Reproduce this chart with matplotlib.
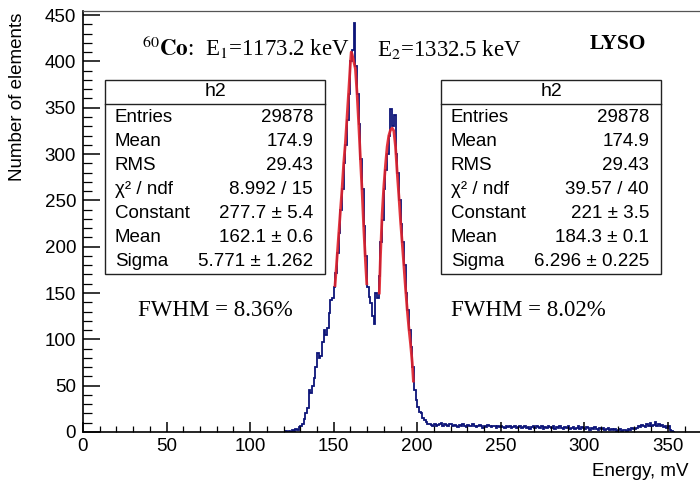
import numpy as np
import matplotlib
matplotlib.use("Agg")
import matplotlib.pyplot as plt
from matplotlib.ticker import MultipleLocator

plt.rcParams['font.family'] = ['Liberation Sans', 'DejaVu Sans']
plt.rcParams['mathtext.fontset'] = 'stix'

# histogram: 1 mV bins starting at 120 mV
bin_start = 120
counts = [
    0, 1, 0, 1, 0, 2, 1, 3, 2, 5,                      # 120-129
    6, 9, 14, 20, 26, 45, 42, 50, 58, 70,              # 130-139
    85, 80, 82, 97, 110, 105, 112, 128, 142, 145,      # 140-149
    157, 172, 193, 215, 240, 262, 290, 310, 337, 365,  # 150-159
    400, 412, 441, 395, 365, 332, 295, 262, 222, 190,  # 160-169
    157, 146, 139, 125, 117, 150, 145, 168, 205, 229,  # 170-179
    262, 283, 300, 319, 349, 330, 342, 300, 280, 250,  # 180-189
    225, 205, 180, 150, 132, 110, 92, 70, 45, 35,      # 190-199
    27, 22, 20, 15, 13, 11, 9, 9, 8, 7,                # 200-209
    9, 6, 8, 9, 10, 7, 9, 8, 6, 9,                     # 210-219
    9, 6, 8, 7, 5, 8, 6, 9, 7, 5,                      # 220-229
    8, 6, 7, 9, 6, 5, 7, 8, 6, 4,                      # 230-239
    7, 5, 8, 6, 5, 7, 6, 4, 6, 5,                      # 240-249
    7, 5, 4, 6, 5, 7, 4, 5, 6, 4,                      # 250-259
    5, 7, 4, 5, 6, 4, 5, 3, 5, 6,                      # 260-269
    4, 7, 5, 4, 6, 3, 5, 4, 6, 5,                      # 270-279
    4, 6, 3, 5, 4, 6, 4, 3, 5, 4,                      # 280-289
    6, 3, 4, 5, 3, 4, 6, 3, 5, 4,                      # 290-299
    3, 5, 4, 2, 4, 3, 5, 3, 2, 4,                      # 300-309
    3, 4, 2, 3, 4, 2, 3, 2, 3, 1,                      # 310-319
    2, 3, 1, 2, 2, 1, 3, 2, 4, 3,                      # 320-329
    3, 4, 6, 5, 8, 6, 5, 9, 7, 10,                     # 330-339
    6, 8, 11, 7, 9, 6, 8, 5, 7, 4,                     # 340-349
    6, 2, 1, 0,                                        # 350-353
]

# gaussian fit curves
fit1_x = [150.8, 152, 153, 154, 155, 156, 157, 158, 159, 160, 160.5, 161,
          162, 163, 164, 165, 166, 167, 168, 169, 169.8]
fit1_y = [158, 188, 213, 238, 262, 290, 312, 340, 368, 398, 410, 408,
          400, 392, 365, 332, 295, 260, 220, 185, 160]
fit2_x = [177.3, 178, 179, 180, 181, 182, 183, 184, 185, 186, 187, 188,
          189, 190, 191, 192, 193, 194, 195, 196, 197, 197.7]
fit2_y = [150, 190, 235, 265, 288, 308, 320, 326, 328, 325, 308, 280,
          255, 228, 204, 180, 155, 132, 112, 95, 75, 55]

box_labels = ["Entries", "Mean", "RMS", "χ² / ndf", "Constant", "Mean", "Sigma"]
box1_values = ["29878", "174.9", "29.43", "8.992 / 15", "277.7 ± 5.4",
               "162.1 ± 0.6", "5.771 ± 1.262"]
box2_values = ["29878", "174.9", "29.43", "39.57 / 40", "221 ± 3.5",
               "184.3 ± 0.1", "6.296 ± 0.225"]

W, H = 700, 482
fig = plt.figure(figsize=(7, 4.82), dpi=100)


def fx(px):
    return px / W


def fy(py):
    return 1 - py / H


ax = fig.add_axes([fx(83), fy(432), fx(700) - fx(83), fy(11) - fy(432)])
edges = np.arange(bin_start, bin_start + len(counts) + 1)
ax.stairs(counts, edges, color='#0c1478', lw=1.3)
ax.plot(fit1_x, fit1_y, color='#e0202a', lw=2.0, alpha=0.9)
ax.plot(fit2_x, fit2_y, color='#e0202a', lw=2.0, alpha=0.9)

ax.set_xlim(0, 369.2)
ax.set_ylim(0, 454.4)
ax.xaxis.set_major_locator(MultipleLocator(50))
ax.xaxis.set_minor_locator(MultipleLocator(10))
ax.yaxis.set_major_locator(MultipleLocator(50))
ax.yaxis.set_minor_locator(MultipleLocator(10))
ax.tick_params(axis='y', which='major', direction='in', length=12, width=1.1, labelsize=13.5, pad=5)
ax.tick_params(axis='y', which='minor', direction='in', length=6.5, width=0.9)
ax.tick_params(axis='x', which='major', direction='in', length=7, width=1.1, labelsize=13.5, pad=4)
ax.tick_params(axis='x', which='minor', direction='in', length=4, width=0.9)
ax.spines['right'].set_visible(False)
ax.spines['top'].set_color('#555555')
ax.spines['top'].set_linewidth(0.9)
ax.spines['left'].set_linewidth(1.2)
ax.spines['bottom'].set_linewidth(1.2)

fig.text(fx(18), fy(13), "Number of elements", rotation=90, ha='center', va='top', fontsize=13.5)
fig.text(fx(688), fy(471), "Energy, mV", ha='right', va='center', fontsize=13.5)

serif = ['Liberation Serif', 'DejaVu Serif']
fig.text(fx(142), fy(56), r"$^{60}\mathbf{Co}$:  E$_1$=1173.2 keV", family=serif,
         fontsize=16.5, ha='left', va='baseline')
fig.text(fx(377), fy(56), r"E$_2$=1332.5 keV", family=serif,
         fontsize=16.5, ha='left', va='baseline')
fig.text(fx(590), fy(49), "LYSO", family=serif, fontweight='bold',
         fontsize=15.5, ha='left', va='baseline')
fig.text(fx(215), fy(311), "FWHM = 8.36%", family=serif, fontsize=16.5, ha='center', va='center')
fig.text(fx(528), fy(311), "FWHM = 8.02%", family=serif, fontsize=16.5, ha='center', va='center')


def stat_box(left, right, values):
    top, head, bottom = 80, 104, 274
    fig.patches.append(plt.Rectangle((fx(left), fy(bottom)), fx(right) - fx(left),
                                     fy(top) - fy(bottom), transform=fig.transFigure,
                                     facecolor='white', edgecolor='#222222', lw=1.0))
    fig.add_artist(plt.Line2D([fx(left), fx(right)], [fy(head), fy(head)],
                              transform=fig.transFigure, color='#222222', lw=1.0))
    fig.text(fx((left + right) / 2), fy(92), "h2", ha='center', va='center', fontsize=14)
    for i, (lab, val) in enumerate(zip(box_labels, values)):
        yy = fy(117 + 24.1 * i)
        fig.text(fx(left + 10), yy, lab, ha='left', va='center', fontsize=13.5)
        fig.text(fx(right - 12), yy, val, ha='right', va='center', fontsize=13.5)


stat_box(105, 325, box1_values)
stat_box(441, 661, box2_values)

fig.savefig("out.png", dpi=100)
